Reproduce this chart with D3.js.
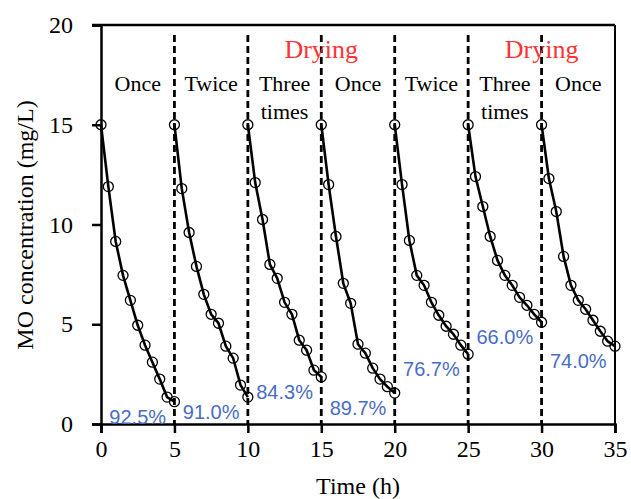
<!DOCTYPE html>
<html>
<head>
<meta charset="utf-8">
<script src="https://cdn.jsdelivr.net/npm/d3@7"></script>
<style>
  body { margin: 0; background: #fff; }
  svg text { font-family: "Liberation Serif", "Times New Roman", serif; }
</style>
</head>
<body>
<div id="chart"></div>
<script>
// hours within one cycle, and the start hour of every cycle
const hours = [0, 0.5, 1, 1.5, 2, 2.5, 3, 3.5, 4, 4.5, 5];
const cycleStarts = [0, 5, 10, 15, 20, 25, 30];

// MO concentration (mg/L)
const cycle1 = [15, 11.9, 9.15, 7.45, 6.2, 4.95, 3.95, 3.1, 2.25, 1.35, 1.12];
const cycle2 = [15, 11.8, 9.6, 7.9, 6.5, 5.5, 5.05, 3.9, 3.3, 1.95, 1.35];
const cycle3 = [15, 12.1, 10.25, 8.0, 7.3, 6.1, 5.5, 4.2, 3.7, 2.7, 2.36];
const cycle4 = [15, 12.0, 9.4, 7.05, 6.05, 4.0, 3.55, 2.8, 2.25, 1.87, 1.55];
const cycle5 = [15, 12.0, 9.2, 7.45, 6.95, 6.1, 5.45, 4.9, 4.5, 3.95, 3.5];
const cycle6 = [15, 12.4, 10.9, 9.4, 8.2, 7.45, 6.95, 6.35, 5.95, 5.5, 5.1];
const cycle7 = [15, 12.3, 10.65, 8.4, 6.95, 6.2, 5.75, 5.2, 4.65, 4.15, 3.9];
const cycles = [cycle1, cycle2, cycle3, cycle4, cycle5, cycle6, cycle7];

const cycleNames = [["Once"], ["Twice"], ["Three", "times"], ["Once"], ["Twice"], ["Three", "times"], ["Once"]];
const removal = ["92.5%", "91.0%", "84.3%", "89.7%", "76.7%", "66.0%", "74.0%"];
const dryingAt = [15, 30];

const xTicks = [0, 5, 10, 15, 20, 25, 30, 35];
const yTicks = [0, 5, 10, 15, 20];

let width = 631, height = 499;
let margin = {top: 25, right: 16, bottom: 75, left: 101};

let svg = d3.select("#chart").append("svg")
    .attr("width", width)
    .attr("height", height);

let x = d3.scaleLinear().domain([0, 35]).range([margin.left, width - margin.right]);
let y = d3.scaleLinear().domain([0, 20]).range([height - margin.bottom, margin.top]);

// dashed separators between cycles
svg.selectAll(".sep")
    .data(cycleStarts.slice(1))
    .join("line")
    .attr("class", "sep")
    .attr("x1", d => x(d)).attr("x2", d => x(d))
    .attr("y1", y(19.5)).attr("y2", y(0))
    .attr("stroke", "#000")
    .attr("stroke-width", 2.8)
    .attr("stroke-dasharray", "7,4");

// frame: top and right
svg.append("line")
    .attr("x1", x(0) - 9).attr("x2", x(35))
    .attr("y1", y(20)).attr("y2", y(20))
    .attr("stroke", "#000").attr("stroke-width", 2.5);
svg.append("line")
    .attr("x1", x(35)).attr("x2", x(35))
    .attr("y1", y(20)).attr("y2", y(0))
    .attr("stroke", "#000").attr("stroke-width", 2);

// axes
let xAxis = svg.append("g")
    .attr("transform", "translate(0," + y(0) + ")")
    .call(d3.axisBottom(x).tickValues(xTicks).tickSize(9).tickPadding(7));
let yAxis = svg.append("g")
    .attr("transform", "translate(" + x(0) + ",0)")
    .call(d3.axisLeft(y).tickValues(yTicks).tickSize(9).tickPadding(19));

[xAxis, yAxis].forEach(g => {
    g.select(".domain").attr("stroke", "#000").attr("stroke-width", 2.5);
    g.selectAll(".tick line").attr("stroke", "#000").attr("stroke-width", 2.5);
    g.selectAll(".tick text")
        .attr("fill", "#000")
        .style("font-family", "'Liberation Serif', serif")
        .style("font-size", "24px");
});

// axis titles
svg.append("text")
    .attr("x", (x(0) + x(35)) / 2)
    .attr("y", 494)
    .attr("text-anchor", "middle")
    .style("font-size", "24px")
    .text("Time (h)");

svg.append("text")
    .attr("transform", "translate(33," + 225 + ") rotate(-90)")
    .attr("text-anchor", "middle")
    .style("font-size", "24px")
    .text("MO concentration (mg/L)");

// curves
let line = d3.line()
    .x(d => x(d.t))
    .y(d => y(d.v));

cycles.forEach((vals, i) => {
    let pts = vals.map((v, j) => ({t: cycleStarts[i] + hours[j], v: v}));

    svg.append("path")
        .datum(pts)
        .attr("d", line)
        .attr("fill", "none")
        .attr("stroke", "#000")
        .attr("stroke-width", 2.6);

    svg.selectAll(".pt" + i)
        .data(pts)
        .join("circle")
        .attr("class", "pt" + i)
        .attr("cx", d => x(d.t))
        .attr("cy", d => y(d.v))
        .attr("r", 5)
        .attr("fill", "none")
        .attr("stroke", "#000")
        .attr("stroke-width", 1.3);

    // removal percentage, below-left of the last point
    svg.append("text")
        .attr("x", x(cycleStarts[i] + 2.5))
        .attr("y", y(vals[vals.length - 1]) + 22)
        .attr("text-anchor", "middle")
        .attr("fill", "#4a6cc4")
        .style("font-family", "'Liberation Sans', Arial, sans-serif")
        .style("font-size", "20px")
        .text(removal[i]);

    // cycle name
    let label = svg.append("text")
        .attr("text-anchor", "middle")
        .attr("fill", "#000")
        .style("font-size", "22px");
    cycleNames[i].forEach((s, k) => {
        label.append("tspan")
            .attr("x", x(cycleStarts[i] + 2.5))
            .attr("y", 91 + k * 28)
            .text(s);
    });
});

// drying marks
svg.selectAll(".drying")
    .data(dryingAt)
    .join("text")
    .attr("class", "drying")
    .attr("x", d => x(d))
    .attr("y", 58)
    .attr("text-anchor", "middle")
    .attr("fill", "#ff3333")
    .style("font-family", "'Liberation Serif', serif")
    .style("font-size", "26px")
    .text("Drying");
</script>
</body>
</html>
